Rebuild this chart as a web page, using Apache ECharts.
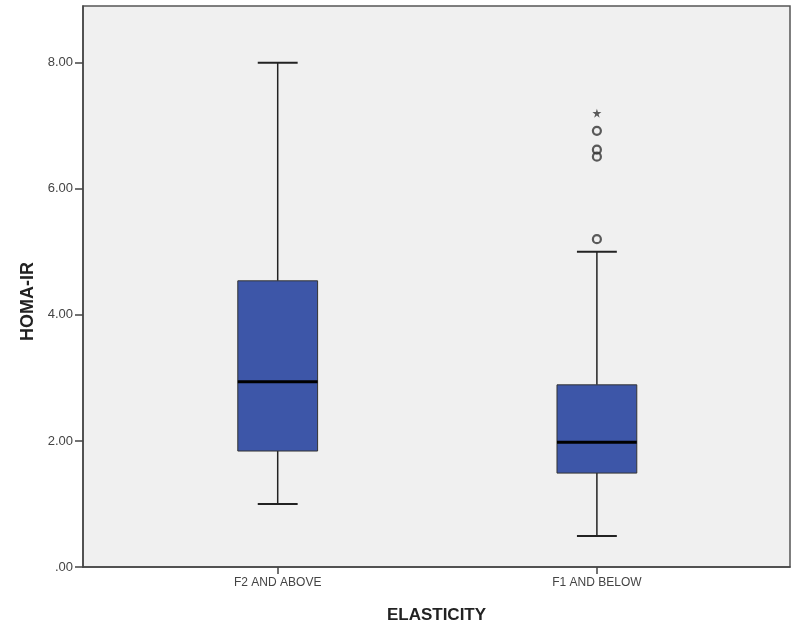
<!DOCTYPE html>
<html>
<head>
<meta charset="utf-8">
<script src="https://cdn.jsdelivr.net/npm/echarts@6/dist/echarts.min.js"></script>
<style>html,body{margin:0;padding:0;background:#fff;}#chart{width:800px;height:640px;}</style>
</head>
<body>
<div id="chart"></div>
<script>
const categories = ['F2 AND ABOVE', 'F1 AND BELOW'];
const lowWhisker = [1.0, 0.49];
const q1 = [1.84, 1.49];
const median = [2.94, 1.98];
const q3 = [4.54, 2.89];
const highWhisker = [8.0, 5.0];
const outlierCategory = [2, 2, 2, 2];
const outlierValues = [5.2, 6.51, 6.62, 6.92];
const extremeCategory = [2];
const extremeValues = [7.2];
const yTicks = [0, 2, 4, 6, 8];

const boxData = categories.map((c, i) => [i + 1, lowWhisker[i], q1[i], median[i], q3[i], highWhisker[i]]);
const outlierData = outlierValues.map((v, i) => [outlierCategory[i], v]);
const extremeData = extremeValues.map((v, i) => [extremeCategory[i], v]);

const FONT = '"Liberation Sans", Arial, sans-serif';
const chart = echarts.init(document.getElementById('chart'));

function renderBox(params, api) {
  const x = api.value(0);
  const pLow = api.coord([x, api.value(1)]);
  const pQ1 = api.coord([x, api.value(2)]);
  const pMed = api.coord([x, api.value(3)]);
  const pQ3 = api.coord([x, api.value(4)]);
  const pHigh = api.coord([x, api.value(5)]);
  const halfW = api.size([0.25, 0])[0] / 2;
  const capHalf = halfW / 2;
  const cx = pMed[0];
  const lineStyle = { stroke: '#222', lineWidth: 1.5 };
  return {
    type: 'group',
    children: [
      { type: 'line', shape: { x1: cx, y1: pQ3[1], x2: cx, y2: pHigh[1] }, style: lineStyle },
      { type: 'line', shape: { x1: cx, y1: pQ1[1], x2: cx, y2: pLow[1] }, style: lineStyle },
      { type: 'line', shape: { x1: cx - capHalf, y1: pHigh[1], x2: cx + capHalf, y2: pHigh[1] }, style: { stroke: '#222', lineWidth: 2 } },
      { type: 'line', shape: { x1: cx - capHalf, y1: pLow[1], x2: cx + capHalf, y2: pLow[1] }, style: { stroke: '#222', lineWidth: 2 } },
      { type: 'rect', shape: { x: cx - halfW, y: pQ3[1], width: halfW * 2, height: pQ1[1] - pQ3[1] }, style: { fill: '#3d56a8', stroke: '#333', lineWidth: 1 } },
      { type: 'line', shape: { x1: cx - halfW, y1: pMed[1], x2: cx + halfW, y2: pMed[1] }, style: { stroke: '#000', lineWidth: 3 } }
    ]
  };
}

chart.setOption({
  backgroundColor: '#ffffff',
  animation: false,
  grid: {
    left: 83, right: 10, top: 6, bottom: 73,
    show: true, backgroundColor: '#f0f0f0', borderColor: '#555', borderWidth: 1.5
  },
  xAxis: {
    type: 'value',
    min: 0.39, max: 2.605,
    name: 'ELASTICITY',
    nameLocation: 'middle',
    nameGap: 40,
    nameTextStyle: { fontFamily: FONT, fontSize: 17, fontWeight: 'bold', color: '#222' },
    axisLine: { show: true, onZero: false, lineStyle: { color: '#444', width: 1.5 } },
    axisTick: { show: true, customValues: [1, 2], length: 7, lineStyle: { color: '#444', width: 1.5 } },
    axisLabel: {
      customValues: [1, 2], margin: 10,
      formatter: v => categories[Math.round(v) - 1] || '',
      fontFamily: FONT, fontSize: 12, color: '#444'
    },
    splitLine: { show: false }
  },
  yAxis: {
    type: 'value',
    min: 0, max: 8.9, interval: 2,
    name: 'HOMA-IR',
    nameLocation: 'middle',
    nameGap: 42,
    nameRotate: 90,
    nameTextStyle: { fontFamily: FONT, fontSize: 18, fontWeight: 'bold', color: '#222', padding: [0, 30, 0, 0] },
    axisLine: { show: true, lineStyle: { color: '#444', width: 1.5 } },
    axisTick: { show: true, customValues: yTicks, length: 8, lineStyle: { color: '#444', width: 1.5 } },
    axisLabel: {
      customValues: yTicks, margin: 10,
      formatter: v => v === 0 ? '.00' : v.toFixed(2),
      fontFamily: FONT, fontSize: 13, color: '#444'
    },
    splitLine: { show: false }
  },
  series: [
    {
      type: 'custom',
      renderItem: renderBox,
      encode: { x: 0, y: [1, 2, 3, 4, 5] },
      data: boxData,
      z: 2
    },
    {
      type: 'scatter',
      data: outlierData,
      symbol: 'circle',
      symbolSize: 8,
      itemStyle: { color: 'rgba(0,0,0,0)', borderColor: '#333', borderWidth: 2.2 },
      z: 3
    },
    {
      type: 'scatter',
      data: extremeData,
      symbol: 'path://M50,0 L61,35 L98,35 L68,57 L79,91 L50,70 L21,91 L32,57 L2,35 L39,35 Z',
      symbolSize: 9,
      itemStyle: { color: '#333' },
      z: 3
    }
  ]
});
</script>
</body>
</html>
